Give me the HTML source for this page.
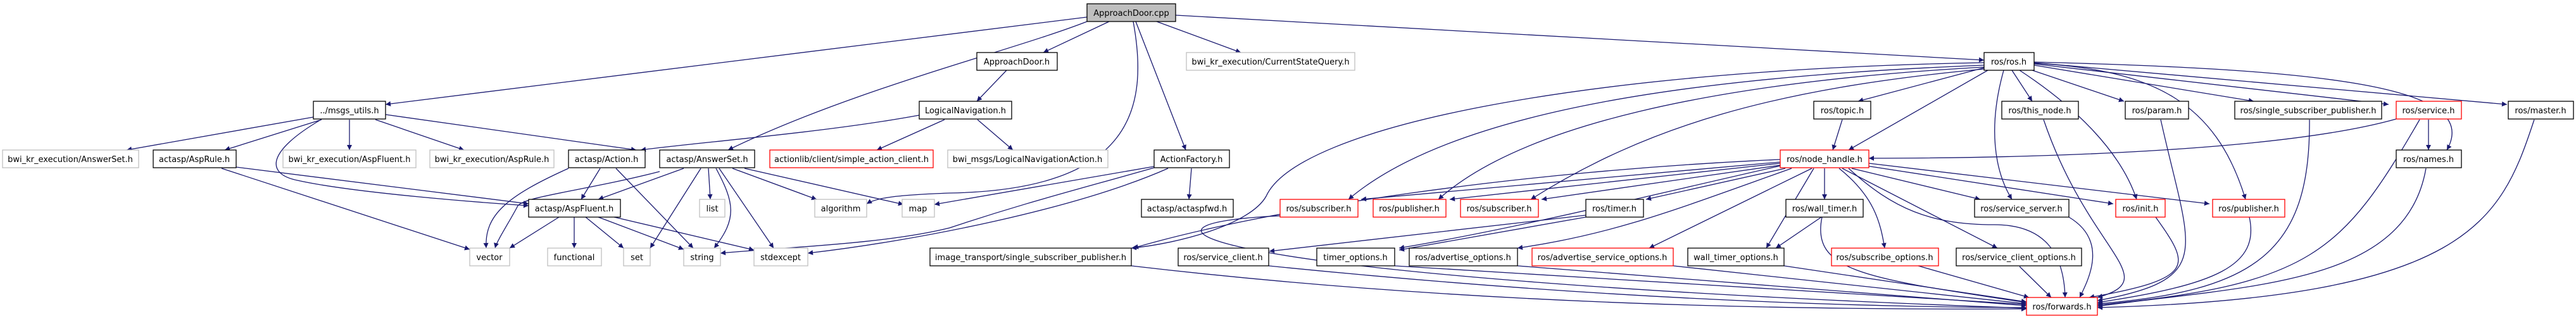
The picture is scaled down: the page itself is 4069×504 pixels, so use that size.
<!DOCTYPE html>
<html><head><meta charset="utf-8"><style>
html,body{margin:0;padding:0;background:#fff}
svg{display:block}
text{font-family:"DejaVu Sans","Liberation Sans",sans-serif;font-size:13px;fill:#000}
.e{fill:none;stroke:#191970;stroke-width:1.3}
.b{fill:#fff;stroke:#000;stroke-width:1.3}
.g{fill:#fff;stroke:#bfbfbf;stroke-width:1.3}
.r{fill:#fff;stroke:#ff0000;stroke-width:1.3}
</style></head><body>
<svg width="4069" height="504" viewBox="0 0 4069 504" xmlns="http://www.w3.org/2000/svg">
<defs><marker id="a" viewBox="0 0 10 10" refX="10" refY="5" markerWidth="10" markerHeight="8" markerUnits="userSpaceOnUse" orient="auto"><path d="M0,0L10,5L0,10z" fill="#191970"/></marker></defs>
<g class="e" marker-end="url(#a)">
<path d="M1717,27L609,165"/>
<path d="M1717,34C1600,80 1350,140 1150,237"/>
<path d="M1752,34L1648,83"/>
<path d="M1827,34L1960,83"/>
<path d="M1794,34L1873,237"/>
<path d="M1790,34C1815,170 1790,300 1500,305C1420,308 1385,312 1369,322"/>
<path d="M1857,24L3134,95"/>
<path d="M1590,111L1543,160"/>
<path d="M1452,182C1300,210 1100,225 1012,237"/>
<path d="M1492,189L1385,237"/>
<path d="M1544,189L1600,237"/>
<path d="M495,185L200,237"/>
<path d="M508,189L355,237"/>
<path d="M552,189L552,237"/>
<path d="M593,189L733,237"/>
<path d="M609,181L1005,237"/>
<path d="M507,189C420,240 420,275 470,285C560,305 760,320 835,325"/>
<path d="M373,264L835,322"/>
<path d="M350,266L742,394"/>
<path d="M948,266L918,315"/>
<path d="M898,266C800,310 765,340 768,392"/>
<path d="M973,266L1095,392"/>
<path d="M1042,271C930,300 830,310 818,325C805,350 785,380 782,392"/>
<path d="M1080,266L945,315"/>
<path d="M1107,266L1027,392"/>
<path d="M1119,266L1122,315"/>
<path d="M1131,266C1160,320 1165,345 1128,392"/>
<path d="M1136,266L1222,392"/>
<path d="M1157,266L1290,315"/>
<path d="M1176,266L1427,323"/>
<path d="M883,343L805,392"/>
<path d="M907,343L907,392"/>
<path d="M925,343L985,392"/>
<path d="M945,343L1080,394"/>
<path d="M970,343L1191,395"/>
<path d="M1823,263L1476,323"/>
<path d="M1823,265C1700,300 1620,320 1500,360C1400,385 1250,390 1138,400"/>
<path d="M1845,266C1700,330 1450,380 1276,400"/>
<path d="M1882,266L1878,315"/>
<path d="M3134,99C2500,110 2050,200 2000,310C1975,355 1860,385 1787,392"/>
<path d="M2812,252C2400,270 2000,330 1790,392"/>
<path d="M3134,103C2700,120 2300,170 2130,315"/>
<path d="M3134,106C2700,130 2400,200 2272,315"/>
<path d="M3134,109C2800,140 2600,200 2418,315"/>
<path d="M3134,107L2935,160"/>
<path d="M3140,111L2920,237"/>
<path d="M3178,111L3210,160"/>
<path d="M3210,111L3355,160"/>
<path d="M3213,103L3560,160"/>
<path d="M3213,101L3773,165"/>
<path d="M3213,99L3960,165"/>
<path d="M3213,98C3700,110 3920,140 3865,237"/>
<path d="M3213,100C3400,110 3500,160 3547,315"/>
<path d="M3190,111C3280,170 3350,240 3375,315"/>
<path d="M3165,111C3140,200 3150,270 3178,315"/>
<path d="M3785,188C3600,240 3200,250 2952,250"/>
<path d="M3836,189L3836,237"/>
<path d="M2812,256L2150,315"/>
<path d="M2812,258L2290,315"/>
<path d="M2812,261L2435,315"/>
<path d="M2820,266L2600,315"/>
<path d="M2882,266L2882,315"/>
<path d="M2925,266L3128,315"/>
<path d="M2948,262L3338,322"/>
<path d="M2952,258L3490,322"/>
<path d="M2812,262C2600,310 2400,360 2210,392"/>
<path d="M2830,266C2650,330 2550,370 2397,392"/>
<path d="M2862,266L2605,392"/>
<path d="M2865,266L2790,392"/>
<path d="M2905,266C2960,310 2970,350 2977,392"/>
<path d="M2910,266L3155,392"/>
<path d="M2505,340L2005,397"/>
<path d="M2505,343L2210,395"/>
<path d="M2910,189L2895,237"/>
<path d="M2877,343L2805,392"/>
<path d="M2920,266C2990,330 3050,355 3150,355C3230,355 3260,400 3262,470"/>
<path d="M2878,343C2860,430 2950,440 3201,478"/>
<path d="M2203,420L3201,481"/>
<path d="M2397,420L3201,483"/>
<path d="M2643,420L3201,480"/>
<path d="M2818,420L3201,477"/>
<path d="M3030,420L3205,470"/>
<path d="M3190,421L3240,470"/>
<path d="M3268,343C3330,380 3300,440 3285,470"/>
<path d="M3405,343C3460,420 3470,440 3300,470"/>
<path d="M3228,189C3300,400 3420,440 3313,470"/>
<path d="M3413,189C3460,400 3500,440 3313,475"/>
<path d="M3553,343C3570,420 3500,450 3313,478"/>
<path d="M3648,189C3650,400 3560,460 3313,480"/>
<path d="M3822,189C3700,400 3650,450 3313,482"/>
<path d="M3832,266C3800,450 3560,450 3313,484"/>
<path d="M4003,189C3950,350 3900,470 3313,486"/>
<path d="M2004,420C2500,470 2900,485 3201,486"/>
<path d="M1787,420C2300,480 2800,490 3201,488"/>
<path d="M2050,340C1700,350 1900,440 3201,487"/>
</g>
<g>
<rect x="1717" y="6" width="140" height="28" fill="#bfbfbf" stroke="#000" stroke-width="1.3"/><text x="1787" y="25" text-anchor="middle">ApproachDoor.cpp</text>
<rect class="b" x="1543" y="83" width="127" height="28"/><text x="1606" y="102" text-anchor="middle">ApproachDoor.h</text>
<rect class="g" x="1874" y="83" width="266" height="28"/><text x="2007" y="102" text-anchor="middle">bwi_kr_execution/CurrentStateQuery.h</text>
<rect class="b" x="3134" y="83" width="79" height="28"/><text x="3173" y="102" text-anchor="middle">ros/ros.h</text>
<rect class="b" x="495" y="160" width="114" height="28"/><text x="552" y="179" text-anchor="middle">../msgs_utils.h</text>
<rect class="b" x="1452" y="160" width="146" height="28"/><text x="1525" y="179" text-anchor="middle">LogicalNavigation.h</text>
<rect class="b" x="2865" y="160" width="90" height="28"/><text x="2910" y="179" text-anchor="middle">ros/topic.h</text>
<rect class="b" x="3162" y="160" width="121" height="28"/><text x="3222" y="179" text-anchor="middle">ros/this_node.h</text>
<rect class="b" x="3357" y="160" width="100" height="28"/><text x="3407" y="179" text-anchor="middle">ros/param.h</text>
<rect class="b" x="3530" y="160" width="232" height="28"/><text x="3646" y="179" text-anchor="middle">ros/single_subscriber_publisher.h</text>
<rect class="r" x="3785" y="160" width="103" height="28"/><text x="3836" y="179" text-anchor="middle">ros/service.h</text>
<rect class="b" x="3962" y="160" width="103" height="28"/><text x="4013" y="179" text-anchor="middle">ros/master.h</text>
<rect class="g" x="4" y="237" width="215" height="28"/><text x="111" y="256" text-anchor="middle">bwi_kr_execution/AnswerSet.h</text>
<rect class="b" x="242" y="237" width="131" height="28"/><text x="307" y="256" text-anchor="middle">actasp/AspRule.h</text>
<rect class="g" x="447" y="237" width="210" height="28"/><text x="552" y="256" text-anchor="middle">bwi_kr_execution/AspFluent.h</text>
<rect class="g" x="679" y="237" width="196" height="28"/><text x="777" y="256" text-anchor="middle">bwi_kr_execution/AspRule.h</text>
<rect class="b" x="898" y="237" width="121" height="28"/><text x="958" y="256" text-anchor="middle">actasp/Action.h</text>
<rect class="b" x="1042" y="237" width="150" height="28"/><text x="1117" y="256" text-anchor="middle">actasp/AnswerSet.h</text>
<rect class="r" x="1216" y="237" width="258" height="28"/><text x="1345" y="256" text-anchor="middle">actionlib/client/simple_action_client.h</text>
<rect class="g" x="1497" y="237" width="253" height="28"/><text x="1623" y="256" text-anchor="middle">bwi_msgs/LogicalNavigationAction.h</text>
<rect class="b" x="1823" y="237" width="119" height="28"/><text x="1882" y="256" text-anchor="middle">ActionFactory.h</text>
<rect class="r" x="2812" y="237" width="140" height="28"/><text x="2882" y="256" text-anchor="middle">ros/node_handle.h</text>
<rect class="b" x="3785" y="237" width="103" height="28"/><text x="3836" y="256" text-anchor="middle">ros/names.h</text>
<rect class="b" x="835" y="315" width="145" height="28"/><text x="907" y="334" text-anchor="middle">actasp/AspFluent.h</text>
<rect class="g" x="1105" y="315" width="40" height="28"/><text x="1125" y="334" text-anchor="middle">list</text>
<rect class="g" x="1287" y="315" width="82" height="28"/><text x="1328" y="334" text-anchor="middle">algorithm</text>
<rect class="g" x="1425" y="315" width="51" height="28"/><text x="1450" y="334" text-anchor="middle">map</text>
<rect class="b" x="1803" y="315" width="145" height="28"/><text x="1875" y="334" text-anchor="middle">actasp/actaspfwd.h</text>
<rect class="r" x="2022" y="315" width="123" height="28"/><text x="2083" y="334" text-anchor="middle">ros/subscriber.h</text>
<rect class="r" x="2169" y="315" width="115" height="28"/><text x="2226" y="334" text-anchor="middle">ros/publisher.h</text>
<rect class="r" x="2307" y="315" width="123" height="28"/><text x="2368" y="334" text-anchor="middle">ros/subscriber.h</text>
<rect class="b" x="2505" y="315" width="91" height="28"/><text x="2550" y="334" text-anchor="middle">ros/timer.h</text>
<rect class="b" x="2821" y="315" width="122" height="28"/><text x="2882" y="334" text-anchor="middle">ros/wall_timer.h</text>
<rect class="b" x="3119" y="315" width="149" height="28"/><text x="3193" y="334" text-anchor="middle">ros/service_server.h</text>
<rect class="r" x="3342" y="315" width="78" height="28"/><text x="3381" y="334" text-anchor="middle">ros/init.h</text>
<rect class="r" x="3495" y="315" width="114" height="28"/><text x="3552" y="334" text-anchor="middle">ros/publisher.h</text>
<rect class="g" x="742" y="392" width="63" height="28"/><text x="773" y="411" text-anchor="middle">vector</text>
<rect class="g" x="865" y="392" width="85" height="28"/><text x="907" y="411" text-anchor="middle">functional</text>
<rect class="g" x="985" y="392" width="42" height="28"/><text x="1006" y="411" text-anchor="middle">set</text>
<rect class="g" x="1080" y="392" width="58" height="28"/><text x="1109" y="411" text-anchor="middle">string</text>
<rect class="g" x="1191" y="392" width="85" height="28"/><text x="1233" y="411" text-anchor="middle">stdexcept</text>
<rect class="b" x="1469" y="392" width="318" height="28"/><text x="1628" y="411" text-anchor="middle">image_transport/single_subscriber_publisher.h</text>
<rect class="b" x="1861" y="392" width="143" height="28"/><text x="1932" y="411" text-anchor="middle">ros/service_client.h</text>
<rect class="b" x="2080" y="392" width="123" height="28"/><text x="2141" y="411" text-anchor="middle">timer_options.h</text>
<rect class="b" x="2226" y="392" width="171" height="28"/><text x="2311" y="411" text-anchor="middle">ros/advertise_options.h</text>
<rect class="r" x="2420" y="392" width="223" height="28"/><text x="2531" y="411" text-anchor="middle">ros/advertise_service_options.h</text>
<rect class="b" x="2666" y="392" width="152" height="28"/><text x="2742" y="411" text-anchor="middle">wall_timer_options.h</text>
<rect class="r" x="2893" y="392" width="169" height="28"/><text x="2977" y="411" text-anchor="middle">ros/subscribe_options.h</text>
<rect class="b" x="3090" y="392" width="198" height="28"/><text x="3189" y="411" text-anchor="middle">ros/service_client_options.h</text>
<rect class="r" x="3201" y="470" width="112" height="28"/><text x="3257" y="489" text-anchor="middle">ros/forwards.h</text>
</g>
</svg>
</body></html>
